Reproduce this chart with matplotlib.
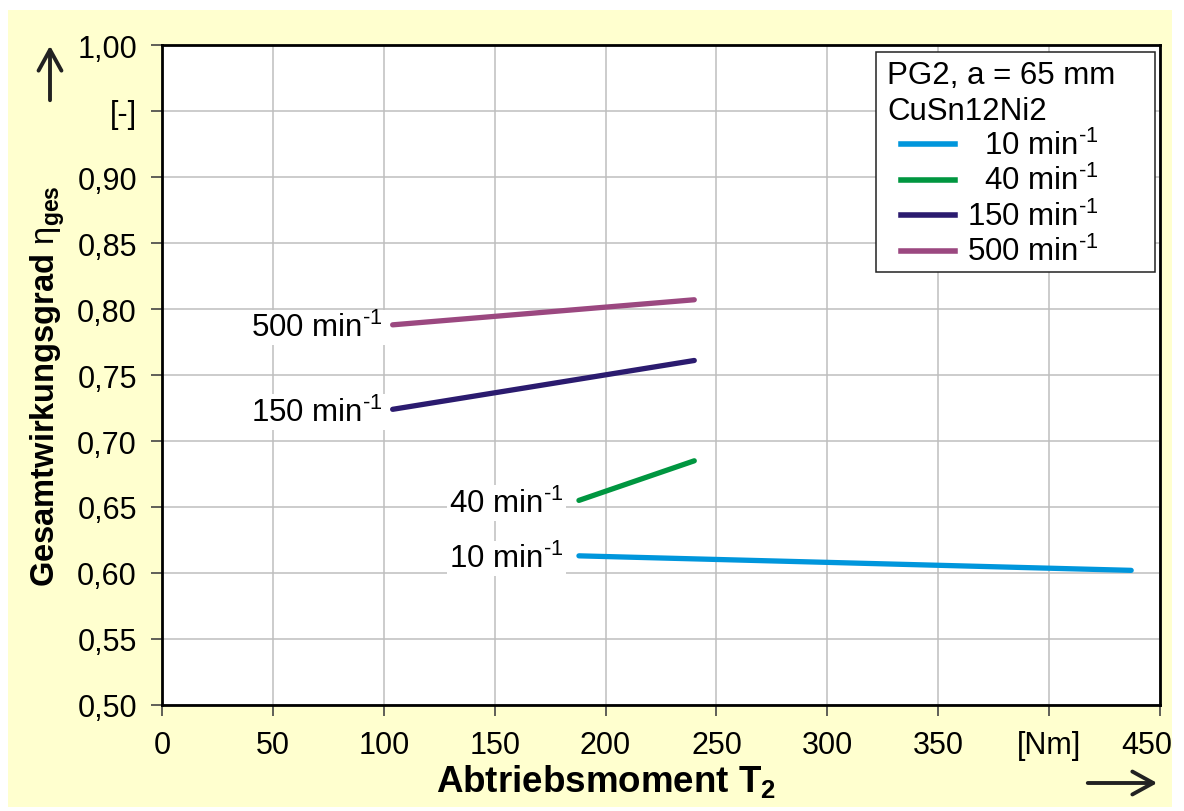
import matplotlib
matplotlib.use("Agg")
import matplotlib.pyplot as plt
from matplotlib.patches import Rectangle, FancyArrowPatch
from matplotlib.lines import Line2D
from matplotlib.transforms import ScaledTranslation

plt.rcParams['font.family'] = ['Liberation Sans', 'DejaVu Sans']
plt.rcParams['mathtext.fontset'] = 'custom'
plt.rcParams['mathtext.rm'] = 'Liberation Sans'
plt.rcParams['mathtext.bf'] = 'Liberation Sans:bold'
plt.rcParams['mathtext.it'] = 'Liberation Sans:italic'

# Output torque T2 [Nm] and overall efficiency for each input speed
speeds = ["10", "40", "150", "500"]
torque_10 = [188, 437]
eta_10 = [0.613, 0.602]
torque_40 = [188, 240]
eta_40 = [0.655, 0.685]
torque_150 = [104, 240]
eta_150 = [0.724, 0.761]
torque_500 = [104, 240]
eta_500 = [0.788, 0.807]

colors = ["#0096DC", "#009640", "#2B1B6F", "#9B4880"]

y_ticks = [0.50, 0.55, 0.60, 0.65, 0.70, 0.75, 0.80, 0.85, 0.90, 0.95, 1.00]
y_ticklabels = ["0,50", "0,55", "0,60", "0,65", "0,70", "0,75", "0,80", "0,85", "0,90", "[-]", "1,00"]
x_ticks = [0, 50, 100, 150, 200, 250, 300, 350, 400, 450]
x_ticklabels = ["0", "50", "100", "150", "200", "250", "300", "350", "[Nm]", "450"]

legend_title = ["PG2, a = 65 mm", "CuSn12Ni2"]
legend_labels = ["  10 min", "  40 min", "150 min", "500 min"]

SUP = r"$^{\text{-1}}$"

W, H = 1184, 812
fig = plt.figure(figsize=(W / 100, H / 100), dpi=100)
fig.patch.set_facecolor("white")


def px(x, y):
    """Pixel position (from top-left) to figure fraction."""
    return (x / W, 1 - y / H)


fig.patches.append(Rectangle((8 / W, 4 / H), 1164 / W, (H - 15) / H,
                             transform=fig.transFigure, facecolor="#FFFFCF",
                             edgecolor="none", zorder=-10))

ax = fig.add_axes([162 / W, 1 - 706 / H, (1160 - 162) / W, (706 - 46) / H])
ax.set_facecolor("white")
ax.set_xlim(0, 450)
ax.set_ylim(0.5, 1.0)
ax.set_xticks(x_ticks)
ax.set_xticklabels(x_ticklabels)
ax.set_yticks(y_ticks)
ax.set_yticklabels(y_ticklabels)
ax.tick_params(axis="both", labelsize=22, length=8, width=1.2, color="#444444",
               direction="out")
ax.tick_params(axis="y", pad=10)
ax.tick_params(axis="x", pad=10)
# the last x label sits slightly left of its tick
last = ax.get_xticklabels()[-1]
last.set_transform(last.get_transform() + ScaledTranslation(-0.13, 0, fig.dpi_scale_trans))
ax.grid(True, color="#BEBEBE", linewidth=1.1)
ax.set_axisbelow(True)
for sp in ax.spines.values():
    sp.set_linewidth(2.0)
    sp.set_color("black")

series = [(torque_10, eta_10), (torque_40, eta_40), (torque_150, eta_150), (torque_500, eta_500)]
for (t, e), c in zip(series, colors):
    ax.plot(t, e, color=c, linewidth=3.8, solid_capstyle="round", zorder=3)

# Curve labels at the left end of each line
bbox = dict(facecolor="white", edgecolor="none", pad=1.5)
label_dx = [-11, -11, -7, -7]
for (t, e), s, dx in zip(series, speeds, label_dx):
    ax.annotate(s + " min" + SUP, xy=(t[0], e[0]), xytext=(dx, -2),
                textcoords="offset points", ha="right", va="center",
                fontsize=22.5, bbox=bbox, zorder=4)

# Legend box
fig.patches.append(Rectangle(px(876, 273), 279 / W, 220 / H, transform=fig.transFigure,
                             facecolor="white", edgecolor="#222222", linewidth=1.1, zorder=5))
for i, line in enumerate(legend_title):
    fig.text(*px(887, 76 + 36 * i), line, ha="left", va="center", fontsize=22.5, zorder=6)
for i, (lab, c) in enumerate(zip(legend_labels, colors)):
    yy = 145 + 35.5 * i
    fig.add_artist(Line2D([901 / W, 955 / W], [1 - yy / H, 1 - yy / H], color=c,
                          linewidth=4, transform=fig.transFigure, zorder=6))
    fig.text(*px(967, yy + 1), lab + SUP, ha="left", va="center", fontsize=22.5, zorder=6)

# Axis titles
fig.text(*px(48, 386), r"Gesamtwirkungsgrad $\mathrm{\eta}_{\mathbf{ges}}$", rotation=90,
         ha="center", va="center", fontsize=23.5, fontweight="bold")
fig.text(*px(606, 782), r"Abtriebsmoment T$_\mathbf{2}$", ha="center", va="center",
         fontsize=26.5, fontweight="bold")

# Direction arrows
arrow_style = "->,head_length=10,head_width=5.5"
fig.patches.append(FancyArrowPatch(px(50, 104), px(50, 44), transform=fig.transFigure,
                                   arrowstyle=arrow_style, color="#222222",
                                   linewidth=2.8, mutation_scale=1.5))
fig.patches.append(FancyArrowPatch(px(1085, 784), px(1160, 784), transform=fig.transFigure,
                                   arrowstyle=arrow_style, color="#222222",
                                   linewidth=2.8, mutation_scale=1.5))

fig.savefig("out.png", dpi=100)
